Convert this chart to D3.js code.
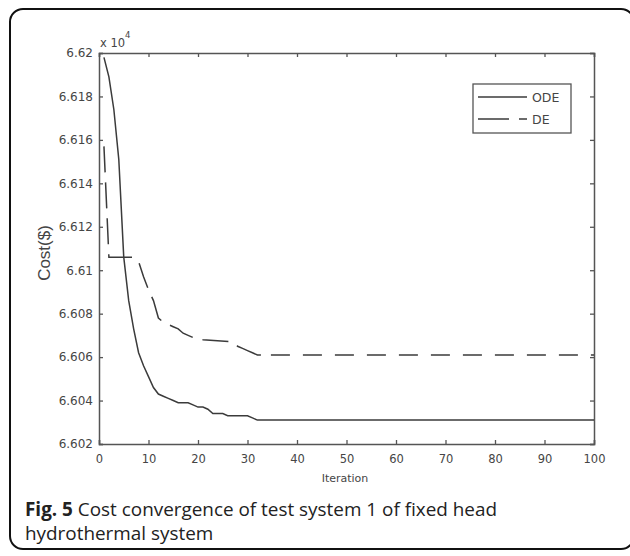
<!DOCTYPE html>
<html>
<head>
<meta charset="utf-8">
<script src="https://cdn.jsdelivr.net/npm/d3@7"></script>
<style>
  html, body { margin: 0; padding: 0; background: #fff; }
  svg { display: block; }
</style>
</head>
<body>
<div id="chart"></div>
<script>
// Convergence traces (cost in units of 1e4 $), vertices of each polyline
const iterODE = [1, 2, 3, 4, 5, 6, 7, 8, 9, 10, 11, 12, 13, 14, 15, 16, 18, 19, 20, 21, 22, 23, 25, 26, 30, 31, 32, 100];
const costODE = [6.6198, 6.6189, 6.6174, 6.6151, 6.6106, 6.6086, 6.6073, 6.6062, 6.6056, 6.6051, 6.6046, 6.6043, 6.6042, 6.6041,
                 6.6040, 6.6039, 6.6039, 6.6038, 6.6037, 6.6037, 6.6036, 6.6034, 6.6034, 6.6033, 6.6033, 6.6032, 6.6031, 6.6031];

const iterDE = [1, 2, 7, 8, 9, 10, 11, 12, 13, 14, 15, 16, 17, 18, 19, 21, 27, 28, 29, 30, 31, 32, 100];
const costDE = [6.6157, 6.6106, 6.6106, 6.6104, 6.6097, 6.6091, 6.6086, 6.6078, 6.6076, 6.6075, 6.6074, 6.6073, 6.6071,
                6.6070, 6.6069, 6.6068, 6.6067, 6.6065, 6.6064, 6.6063, 6.6062, 6.6061, 6.6061];

const xTicks = [0, 10, 20, 30, 40, 50, 60, 70, 80, 90, 100];
const yTicks = [6.602, 6.604, 6.606, 6.608, 6.61, 6.612, 6.614, 6.616, 6.618, 6.62];
const seriesNames = ["ODE", "DE"];

const W = 630, H = 556;
const plot = { left: 99, right: 594, top: 53, bottom: 444 };

const svg = d3.select("#chart").append("svg")
  .attr("width", W).attr("height", H)
  .attr("viewBox", `0 0 ${W} ${H}`);

// Outer figure frame
svg.append("rect")
  .attr("x", 10).attr("y", 9)
  .attr("width", 624).attr("height", 540)
  .attr("rx", 13).attr("ry", 13)
  .attr("fill", "#fff").attr("stroke", "#111").attr("stroke-width", 2);

const x = d3.scaleLinear().domain([0, 100]).range([plot.left, plot.right]);
const y = d3.scaleLinear().domain([6.602, 6.62]).range([plot.bottom, plot.top]);

const axisColor = "#555";
const textColor = "#454545";
const tickFont = "'DejaVu Sans', sans-serif";
const labelFont = "'Liberation Sans', Arial, sans-serif";

// Axes: ticks point inward on all four sides
const fmtY = d => d3.format("")(+d.toFixed(3));
const axB = svg.append("g").attr("transform", `translate(0,${plot.bottom})`)
  .call(d3.axisBottom(x).tickValues(xTicks).tickSize(-4).tickPadding(11).tickFormat(d3.format("d")));
const axT = svg.append("g").attr("transform", `translate(0,${plot.top})`)
  .call(d3.axisTop(x).tickValues(xTicks).tickSize(-4).tickFormat(""));
const axL = svg.append("g").attr("transform", `translate(${plot.left},0)`)
  .call(d3.axisLeft(y).tickValues(yTicks).tickSize(-4).tickPadding(6).tickFormat(fmtY));
const axR = svg.append("g").attr("transform", `translate(${plot.right},0)`)
  .call(d3.axisRight(y).tickValues(yTicks).tickSize(-4).tickFormat(""));

[axB, axT, axL, axR].forEach(g => {
  g.select(".domain").attr("stroke", axisColor).attr("stroke-width", 1.5);
  g.selectAll(".tick line").attr("stroke", axisColor).attr("stroke-width", 1.3);
  g.selectAll(".tick text").attr("fill", textColor)
    .style("font-family", tickFont);
});
axL.selectAll(".tick text").style("font-size", "12px");
axB.selectAll(".tick text").style("font-size", "11.5px");

// Exponent label
const expo = svg.append("text")
  .attr("x", 100).attr("y", 47)
  .attr("fill", textColor)
  .style("font-family", tickFont).style("font-size", "11.5px");
expo.append("tspan").text("x 10");
expo.append("tspan").attr("dy", -9).style("font-size", "8.5px").text("4");

// Axis titles
svg.append("text")
  .attr("x", 345).attr("y", 482)
  .attr("text-anchor", "middle")
  .attr("fill", textColor)
  .style("font-family", tickFont).style("font-size", "11px")
  .text("Iteration");

svg.append("text")
  .attr("transform", `translate(50,253) rotate(-90)`)
  .attr("text-anchor", "middle")
  .attr("fill", textColor)
  .style("font-family", labelFont).style("font-size", "17px")
  .text("Cost($)");

// Curves
const lineColor = "#3b3b3b";
const line = d3.line().x(d => x(d[0])).y(d => y(d[1]));
const odePts = iterODE.map((it, i) => [it, costODE[i]]);
const dePts = iterDE.map((it, i) => [it, costDE[i]]);

// Dash pattern for DE: longer dashes on the steep early part, shorter on the plateau
const dePx = dePts.map(d => [x(d[0]), y(d[1])]);
const cum = [0];
for (let i = 1; i < dePx.length; i++) {
  cum.push(cum[i - 1] + Math.hypot(dePx[i][0] - dePx[i - 1][0], dePx[i][1] - dePx[i - 1][1]));
}
const plateauStart = cum[iterDE.indexOf(32)];
const totalLen = cum[cum.length - 1];
const dashes = [];
let pos = 0;
while (pos < plateauStart) { dashes.push(26, 10); pos += 36; }
while (pos < totalLen) { dashes.push(19, 13); pos += 32; }

svg.append("path").datum(dePts)
  .attr("d", line)
  .attr("fill", "none").attr("stroke", lineColor).attr("stroke-width", 1.5)
  .attr("stroke-dasharray", dashes.join(","));

svg.append("path").datum(odePts)
  .attr("d", line)
  .attr("fill", "none").attr("stroke", lineColor).attr("stroke-width", 1.5);

// Legend
const lg = svg.append("g");
lg.append("rect")
  .attr("x", 473).attr("y", 84).attr("width", 98).attr("height", 49)
  .attr("fill", "#fff").attr("stroke", axisColor).attr("stroke-width", 1.3);
seriesNames.forEach((name, i) => {
  const yy = 97 + i * 22;
  lg.append("line")
    .attr("x1", 478).attr("x2", 527).attr("y1", yy).attr("y2", yy)
    .attr("stroke", lineColor).attr("stroke-width", 1.5)
    .attr("stroke-dasharray", i === 1 ? "31,10" : null);
  lg.append("text")
    .attr("x", 532).attr("y", yy + 5)
    .attr("fill", textColor)
    .style("font-family", tickFont).style("font-size", "12.5px")
    .text(name);
});

// Caption
const capFont = "'Open Sans', 'Noto Sans', sans-serif";
const cap1 = svg.append("text")
  .attr("x", 25).attr("y", 516)
  .attr("fill", "#222")
  .style("font-family", capFont).style("font-size", "18.9px");
cap1.append("tspan").style("font-weight", "bold").text("Fig. 5");
cap1.append("tspan").text(" Cost convergence of test system 1 of fixed head");
svg.append("text")
  .attr("x", 25).attr("y", 540)
  .attr("fill", "#222")
  .style("font-family", capFont).style("font-size", "18.9px")
  .text("hydrothermal system");
</script>
</body>
</html>
